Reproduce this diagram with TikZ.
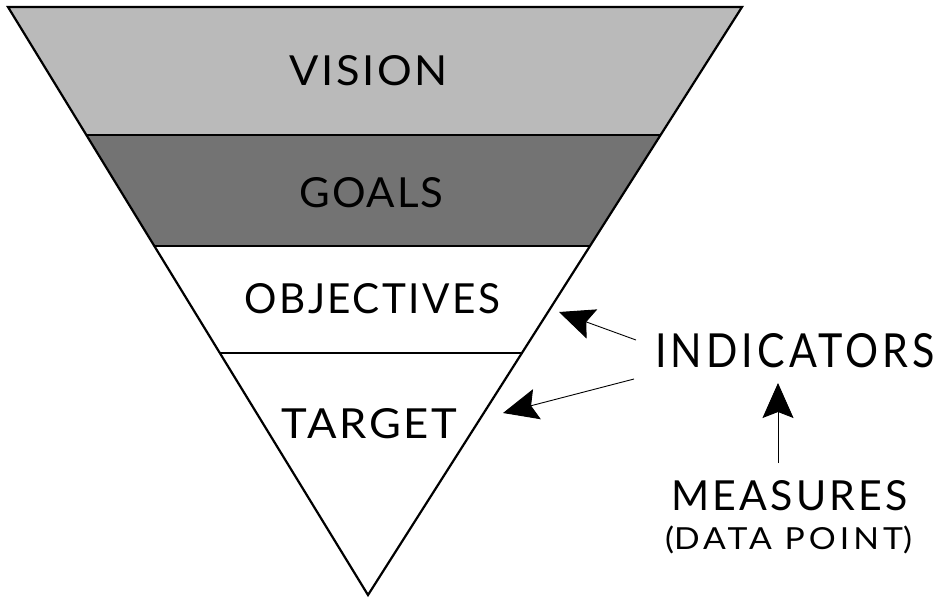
\documentclass[tikz,border=0pt]{standalone}
\usepackage{fontspec}
\setmainfont{Lato}
\usetikzlibrary{arrows.meta,calc}
\newcommand{\fitlabel}[4]{\resizebox{#1}{#2}{\addfontfeatures{LetterSpace=#3}#4}}
\begin{document}
\begin{tikzpicture}[x=1pt,y=-1pt,
  font=\fontsize{42}{42}\selectfont,
  lbl/.style={inner sep=0pt, anchor=base},
  edge/.style={line width=2.2pt, line join=miter},
  divider/.style={line width=1.8pt},
  ptr/.style={line width=0.9pt, -{Stealth[length=35pt,width=31pt,inset=6pt]}}]
\useasboundingbox (0,0) rectangle (942,598);
% triangle corners
\coordinate (TL) at (8,7);
\coordinate (TR) at (742,7);
\coordinate (AP) at (368,595);
% band boundaries
\coordinate (L1) at ($(TL)!0.2177!(AP)$);
\coordinate (R1) at ($(TR)!0.2177!(AP)$);
\coordinate (L2) at ($(TL)!0.4065!(AP)$);
\coordinate (R2) at ($(TR)!0.4065!(AP)$);
\coordinate (L3) at ($(TL)!0.5884!(AP)$);
\coordinate (R3) at ($(TR)!0.5884!(AP)$);
% fills
\fill[black!27] (TL) -- (TR) -- (R1) -- (L1) -- cycle;
\fill[black!55] (L1) -- (R1) -- (R2) -- (L2) -- cycle;
% dividers and outline
\draw[divider] (L1) -- (R1);
\draw[divider] (L2) -- (R2);
\draw[divider] (L3) -- (R3);
\draw[edge] (TL) -- (TR) -- (AP) -- cycle;
% band labels
\node[lbl] (vision) at (369,85) {\fitlabel{158pt}{30pt}{6}{VISION}};
\node[lbl] (goals) at (371.5,207) {\fitlabel{143pt}{30pt}{4}{GOALS}};
\node[lbl] (objectives) at (372.5,313) {\fitlabel{255pt}{30pt}{6}{OBJECTIVES}};
\node[lbl] (target) at (369.5,438) {\fitlabel{175pt}{30pt}{6}{TARGET}};
% side labels
\node[lbl] (ind) at (795,367) {\fitlabel{280pt}{34pt}{10}{INDICATORS}};
\node[lbl] (meas) at (789.5,510) {\fitlabel{237pt}{30pt}{8}{MEASURES}};
\node[lbl] (data) at (788.5,549) {\fitlabel{247pt}{22pt}{12}{\smash{(}DATA POINT\smash{)}}};
% arrow ends
\coordinate (s1) at (636,340);
\coordinate (t1) at (559,312);
\coordinate (s2) at (634,379);
\coordinate (t2) at (503,413);
\coordinate (s3) at (778,463);
\coordinate (t3) at (778,383);
\draw[ptr] (s1) -- (t1);
\draw[ptr] (s2) -- (t2);
\draw[ptr] (s3) -- (t3);
\end{tikzpicture}
\end{document}
